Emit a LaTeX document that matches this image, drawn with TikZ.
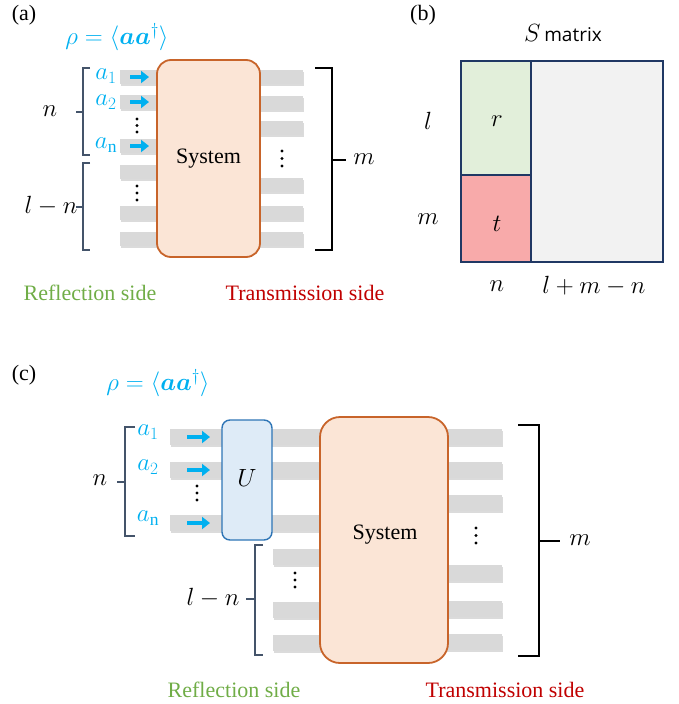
\documentclass[tikz,border=0pt]{standalone}
\usepackage{amsmath}
\usepackage{bm}
\usepackage{fontspec}
\setmainfont{Liberation Serif}
\newfontfamily\labelsans{Open Sans}
\usetikzlibrary{arrows.meta}

\definecolor{barGray}{HTML}{D9D9D9}
\definecolor{barShade}{HTML}{BDBDBD}
\definecolor{inBlue}{HTML}{00B0F0}
\definecolor{sysFill}{HTML}{FBE5D6}
\definecolor{sysEdge}{HTML}{C8642A}
\definecolor{uFill}{HTML}{DEEBF7}
\definecolor{uEdge}{HTML}{2E75B6}
\definecolor{brace}{HTML}{44546A}
\definecolor{matEdge}{HTML}{203864}
\definecolor{rFill}{HTML}{E2EFDA}
\definecolor{tFill}{HTML}{F8AAAA}
\definecolor{restFill}{HTML}{F2F2F2}
\definecolor{reflGreen}{HTML}{70AD47}
\definecolor{transRed}{HTML}{C00000}

\tikzset{
  every node/.style={font=\fontsize{22}{26}\selectfont, inner sep=0pt},
  mathlbl/.style={font=\fontsize{25}{30}\selectfont},
  mathmid/.style={font=\fontsize{23.5}{28}\selectfont},
  guide/.style={fill=barGray},
  guideshadow/.style={fill=barShade, opacity=0.55},
  inarrow/.style={draw=inBlue, line width=4pt, -{Triangle[length=8pt,width=12pt]}},
  sysbox/.style={draw=sysEdge, fill=sysFill, line width=1.8pt},
  ubox/.style={draw=uEdge, fill=uFill, line width=1.4pt, rounded corners=8pt},
  bluebrace/.style={draw=brace, line width=1.3pt},
  blackbrace/.style={draw=black, line width=1.5pt},
  dotmark/.style={fill=black},
  blue label/.style={text=inBlue},
}

% a grey waveguide bar with a faint shadow: #1 = x0, #2 = x1, #3 = y centre, #4 = half height
\newcommand{\guidebar}[4]{%
  \fill[guideshadow] (#1+1,#3-#4+1.6) rectangle (#2+1,#3+#4+1.6);
  \fill[guide] (#1,#3-#4) rectangle (#2,#3+#4);
}
% three stacked dots
\newcommand{\vdotsat}[3]{%
  \foreach \dy in {0,1,2} {\fill[dotmark] (#1,#2+\dy*#3) circle (1.6);}
}

\begin{document}
\begin{tikzpicture}[x=1pt,y=-1pt]
\useasboundingbox (0,0) rectangle (679,704);

%================ (a) =================
\node (lblA) at (24,15) {(a)};
\node[blue label, mathlbl] (rhoA) at (117,37) {$\rho=\langle\bm{a}\bm{a}^{\dagger}\rangle$};

% input / reflection-side guides
\foreach \yy in {77,102,146,172,213,239} {\guidebar{120}{162}{\yy}{7}}
% output / transmission-side guides
\foreach \yy in {77,103,128,185,213,239} {\guidebar{255}{303}{\yy}{7}}

\node[sysbox, rounded corners=14pt, minimum width=103pt, minimum height=197pt] (sysA) at (208.5,158.5) {};
\node (sysAtext) at (sysA.center) {System};

% incoming modes
\coordinate (a1s) at (130,77);  \coordinate (a1e) at (149,77);
\coordinate (a2s) at (130,102); \coordinate (a2e) at (149,102);
\coordinate (ans) at (130,146); \coordinate (ane) at (149,146);
\draw[inarrow] (a1s) -- (a1e);
\draw[inarrow] (a2s) -- (a2e);
\draw[inarrow] (ans) -- (ane);
\node[blue label, mathlbl] (la1) at (106,76) {$a_1$};
\node[blue label, mathlbl] (la2) at (106,102) {$a_2$};
\node[blue label, mathlbl] (lan) at (106,145) {$a_{\mathrm{n}}$};

\vdotsat{137}{119}{6.5}
\vdotsat{137}{186}{7}
\vdotsat{282}{151}{7.5}

% brackets
\coordinate (nAt) at (90,68);  \coordinate (nAb) at (90,155);
\draw[bluebrace] (nAt) -- (83,68) -- (83,155) -- (nAb);
\coordinate (nAm) at (83,112); \coordinate (nAo) at (76,112);
\draw[bluebrace] (nAm) -- (nAo);
\node[mathlbl] (nA) at (50,111) {$n$};

\coordinate (lnAt) at (90,163); \coordinate (lnAb) at (90,250);
\draw[bluebrace] (lnAt) -- (83,163) -- (83,250) -- (lnAb);
\coordinate (lnAm) at (83,207); \coordinate (lnAo) at (76,207);
\draw[bluebrace] (lnAm) -- (lnAo);
\node[mathmid] (lnA) at (51,206) {$l-n$};

\coordinate (mAt) at (315,68); \coordinate (mAb) at (315,250);
\draw[blackbrace] (mAt) -- (332,68) -- (332,250) -- (mAb);
\coordinate (mAm) at (332,160); \coordinate (mAo) at (346,160);
\draw[blackbrace] (mAm) -- (mAo);
\node[mathlbl] (mA) at (364,159) {$m$};

\node[text=reflGreen] (reflA) at (90,293) {Reflection side};
\node[text=transRed] (transA) at (305,293) {Transmission side};

%================ (b) =================
\node (lblB) at (423,15) {(b)};
\node (smat) at (563,33) {{\fontsize{25}{30}\selectfont$S$}\,{\labelsans\fontsize{19}{22}\selectfont matrix}};

\fill[rFill] (461,61) rectangle (531,175);
\fill[tFill] (461,175) rectangle (531,262);
\fill[restFill] (531,61) rectangle (663,262);
\draw[matEdge, line width=2.5pt] (461,61) rectangle (663,262);
\draw[matEdge, line width=2.5pt] (531,61) -- (531,262);
\draw[matEdge, line width=2.5pt] (461,175) -- (531,175);

\node[mathlbl] (rB) at (497,121) {$r$};
\node[mathlbl] (tB) at (497,224) {$t$};
\node[mathlbl] (lB) at (428,121) {$l$};
\node[mathlbl] (mB) at (428,219) {$m$};
\node[mathlbl] (nB) at (497,286) {$n$};
\node[mathlbl] (lmnB) at (594,286) {$l+m-n$};

%================ (c) =================
\node (lblC) at (24,375) {(c)};
\node[blue label, mathlbl] (rhoC) at (158,383) {$\rho=\langle\bm{a}\bm{a}^{\dagger}\rangle$};

% guides into U
\foreach \yy in {437,470,523} {\guidebar{170}{226}{\yy}{8}}
% guides from U to the system
\foreach \yy in {437,470,523} {\guidebar{268}{324}{\yy}{8}}
% remaining reflection-side guides
\foreach \yy in {557,610,643} {\guidebar{273}{324}{\yy}{8}}
% transmission-side guides
\foreach \yy in {437,470,503,573,609,642} {\guidebar{444}{502}{\yy}{8}}

\node[ubox, minimum width=50pt, minimum height=120pt] (uC) at (247,480) {};
\node[mathlbl] (uCtext) at (247,478) {$U$};

\node[sysbox, rounded corners=20pt, minimum width=128pt, minimum height=246pt] (sysC) at (384,540) {};
\node (sysCtext) at (385,535) {System};

\coordinate (c1s) at (187,437); \coordinate (c1e) at (210,437);
\coordinate (c2s) at (187,470); \coordinate (c2e) at (210,470);
\coordinate (cns) at (187,523); \coordinate (cne) at (210,523);
\draw[inarrow] (c1s) -- (c1e);
\draw[inarrow] (c2s) -- (c2e);
\draw[inarrow] (cns) -- (cne);
\node[blue label, mathlbl] (lc1) at (148,432) {$a_1$};
\node[blue label, mathlbl] (lc2) at (148,467) {$a_2$};
\node[blue label, mathlbl] (lcn) at (148,518) {$a_{\mathrm{n}}$};

\vdotsat{197}{486}{7}
\vdotsat{295}{573}{7}
\vdotsat{476}{528}{7.5}

\coordinate (nCt) at (135,427); \coordinate (nCb) at (135,536);
\draw[bluebrace] (nCt) -- (125,427) -- (125,536) -- (nCb);
\coordinate (nCm) at (125,482); \coordinate (nCo) at (117,482);
\draw[bluebrace] (nCm) -- (nCo);
\node[mathlbl] (nC) at (100,480) {$n$};

\coordinate (lnCt) at (263,545); \coordinate (lnCb) at (263,655);
\draw[bluebrace] (lnCt) -- (255,545) -- (255,655) -- (lnCb);
\coordinate (lnCm) at (255,599); \coordinate (lnCo) at (246,599);
\draw[bluebrace] (lnCm) -- (lnCo);
\node[mathmid] (lnC) at (213,598) {$l-n$};

\coordinate (mCt) at (518,425); \coordinate (mCb) at (518,656);
\draw[blackbrace] (mCt) -- (539,425) -- (539,656) -- (mCb);
\coordinate (mCm) at (539,541); \coordinate (mCo) at (560,541);
\draw[blackbrace] (mCm) -- (mCo);
\node[mathlbl] (mC) at (580,540) {$m$};

\node[text=reflGreen] (reflC) at (234,690) {Reflection side};
\node[text=transRed] (transC) at (505,690) {Transmission side};

\end{tikzpicture}
\end{document}
